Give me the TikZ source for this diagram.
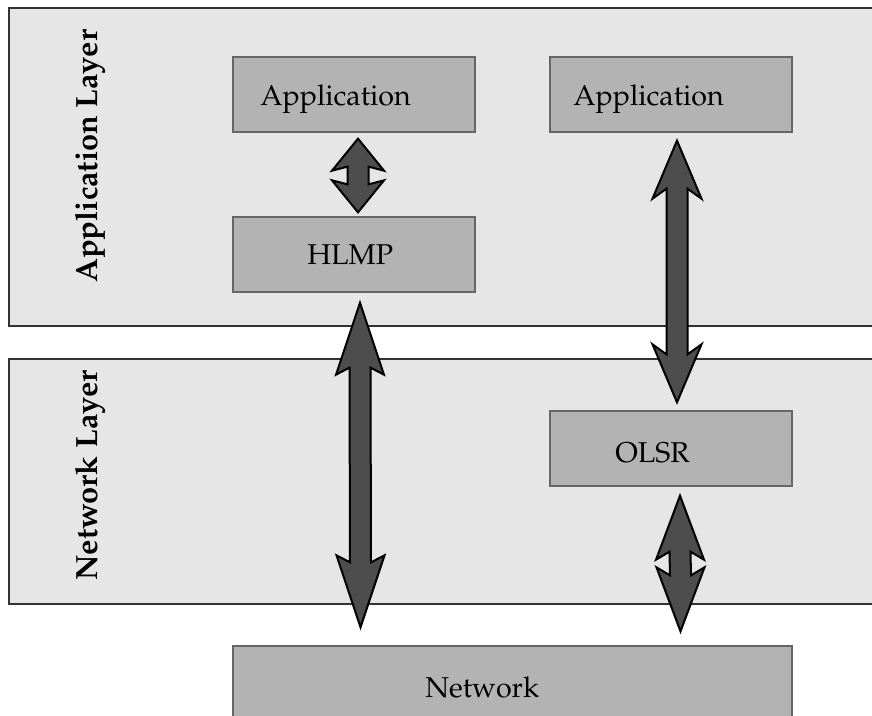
\documentclass[tikz,border=0pt]{standalone}
\usepackage[T1]{fontenc}
\usepackage{mathpazo}
\usetikzlibrary{calc,fit}

\definecolor{layerfill}{HTML}{E6E6E6}
\definecolor{layerline}{HTML}{333333}
\definecolor{boxfill}{HTML}{B3B3B3}
\definecolor{boxline}{HTML}{666666}
\definecolor{arrowfill}{HTML}{4D4D4D}

% Vertical double-headed block arrow between two tip coordinates.
% #1 top tip, #2 bottom tip, #3 head length, #4 barb sweep,
% #5 head half-width, #6 shaft half-width
\newcommand\blockarrow[6]{%
  \draw[blockarr] #1 -- ($#1+(#5,#3+#4)$) -- ($#1+(#6,#3)$)
    -- ($#2+(#6,-#3)$) -- ($#2+(#5,-#3-#4)$) -- #2
    -- ($#2+(-#5,-#3-#4)$) -- ($#2+(-#6,-#3)$)
    -- ($#1+(-#6,#3)$) -- ($#1+(-#5,#3+#4)$) -- cycle;}

\begin{document}
\begin{tikzpicture}[x=0.75pt,y=-0.75pt,
  layer/.style={draw=layerline, fill=layerfill, line width=1.1pt, inner sep=0pt},
  module/.style={draw=boxline, fill=boxfill, line width=1pt, inner sep=0pt},
  lbl/.style={inner sep=0pt, anchor=base west, font=\fontsize{21.5pt}{26pt}\selectfont},
  layerlbl/.style={inner sep=0pt, anchor=base west, rotate=90,
    font=\bfseries\fontsize{23pt}{28pt}\selectfont},
  blockarr/.style={draw=black, fill=arrowfill, line width=1.5pt, line join=miter}
]
\useasboundingbox (0,0) rectangle (872,715);
\clip (0,0) rectangle (872,715);

% layers
\node[layer, fit={(9,8) (885,326)}] (applayer) {};
\node[layer, fit={(9,359) (885,604)}] (netlayer) {};
\node[layerlbl] (applbl) at (97,283) {Application Layer};
\node[layerlbl] (netlbl) at (97,581) {Network Layer};

% modules
\node[module, fit={(233,57) (475,132)}] (app1) {};
\node[module, fit={(550,57) (792,132)}] (app2) {};
\node[module, fit={(233,217) (475,292)}] (hlmp) {};
\node[module, fit={(550,411) (792,486)}] (olsr) {};
\node[module, fit={(233,646) (792,730)}] (net) {};

\node[lbl] (app1t) at (260,105) {Application};
\node[lbl] (app2t) at (573,105) {Application};
\node[lbl] (hlmpt) at (307,264) {HLMP};
\node[lbl] (olsrt) at (615,462) {OLSR};
\node[lbl] (nett) at (425,697) {Network};

% arrow end points
\coordinate (a1t) at ($(app1.south)+(4,6)$);
\coordinate (a1b) at ($(hlmp.north)+(4,-4)$);
\coordinate (a2t) at ($(app2.south)+(6,8)$);
\coordinate (a2b) at ($(olsr.north)+(6,-8)$);
\coordinate (a3t) at ($(hlmp.south)+(6,10)$);
\coordinate (a3b) at ($(net.north)+(-152,-18)$);
\coordinate (a4t) at ($(olsr.south)+(9,9)$);
\coordinate (a4b) at ($(net.north)+(168,-14)$);

% arrows
\blockarrow{(a1t)}{(a1b)}{28}{4}{26}{10.5}
\blockarrow{(a2t)}{(a2b)}{48}{10}{24.5}{10.5}
\blockarrow{(a3t)}{(a3b)}{65}{7}{24}{10.5}
\blockarrow{(a4t)}{(a4b)}{56}{8}{24}{10.5}
\end{tikzpicture}
\end{document}
